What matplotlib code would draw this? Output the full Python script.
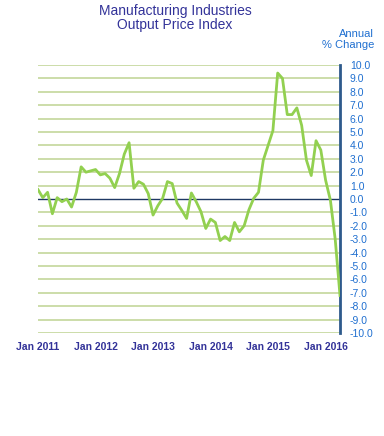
import numpy as np
import matplotlib
matplotlib.use('Agg')
from matplotlib import pyplot as plt

plt.rcParams['font.family'] = ['Liberation Sans', 'DejaVu Sans']

# annual % change, Jan 2011 .. Apr 2016 (monthly)
values = [
    0.7, 0.1, 0.5, -1.1, 0.1, -0.2, 0.0, -0.6, 0.5, 2.4, 2.0, 2.1,
    2.2, 1.8, 1.9, 1.55, 0.85, 1.9, 3.35, 4.2, 0.8, 1.3, 1.1, 0.4,
    -1.2, -0.5, 0.05, 1.3, 1.15, -0.3, -0.85, -1.45, 0.45, -0.2, -0.95, -2.2,
    -1.5, -1.75, -3.1, -2.8, -3.1, -1.75, -2.45, -2.0, -0.8, 0.05, 0.5, 2.9,
    4.0, 5.1, 9.4, 9.0, 6.3, 6.3, 6.8, 5.5, 2.9, 1.75, 4.35, 3.65,
    1.4, -0.1, -3.0, -7.2,
]
year_labels = ['Jan 2011', 'Jan 2012', 'Jan 2013', 'Jan 2014', 'Jan 2015', 'Jan 2016']
y_ticks = np.arange(-10, 11, 1)

months = np.arange(len(values))

fig = plt.figure(figsize=(3.84, 4.36), dpi=100)
ax = fig.add_axes([38/384, 1-333/436, 302/384, 268/436])

for v in y_ticks:
    if v == 0:
        continue
    ax.axhline(v, color='#c4d79b', lw=1.2, zorder=1)
ax.axhline(0, color='#1f3864', lw=1.0, zorder=2)

ax.plot(months, values, color='#92d050', lw=2.0, zorder=3)

ax.set_xlim(0, len(values) - 1)
ax.set_ylim(-10, 10)

for s in ['top', 'left', 'bottom']:
    ax.spines[s].set_visible(False)
ax.spines['right'].set_color('#2e5a8c')
ax.spines['right'].set_linewidth(2)

ax.yaxis.tick_right()
ax.set_yticks(y_ticks)
ax.set_yticklabels(['%.1f' % v for v in y_ticks])
ax.tick_params(axis='y', length=0, pad=7, labelsize=7.5, labelcolor='#1f6fd0')

ax.set_xticks(np.arange(0, len(values), 12))
ax.set_xticklabels(year_labels)
ax.tick_params(axis='x', length=0, pad=6.5, labelsize=7.5, labelcolor='#333399')
for t in ax.get_xticklabels():
    t.set_fontweight('bold')

fig.text(175/384, 1-4/436, 'Manufacturing Industries\nOutput Price Index',
         ha='center', va='top', fontsize=10, color='#333399', linespacing=1.0)
fig.text(374/384, 1-29/436, 'Annual\n% Change', ha='right', va='top',
         fontsize=8, color='#1f6fd0', linespacing=1.15)

fig.savefig('out.png', dpi=100)
